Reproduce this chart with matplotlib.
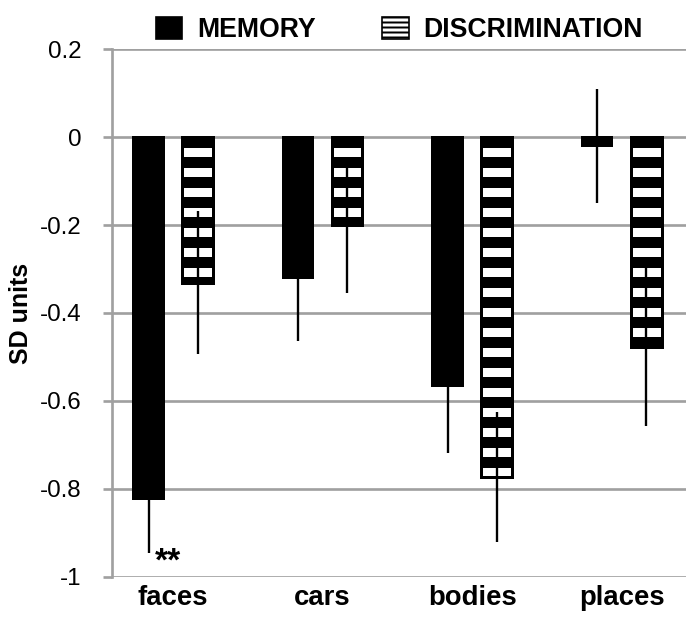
import numpy as np
import matplotlib
matplotlib.use("Agg")
from matplotlib import pyplot as plt
from matplotlib.patches import Patch

categories = ["faces", "cars", "bodies", "places"]
memory = [-0.823, -0.32, -0.566, -0.02]
memory_err = [0.123, 0.144, 0.152, 0.13]
discrimination = [-0.331, -0.20, -0.773, -0.477]
discrimination_err = [0.163, 0.154, 0.147, 0.18]
yticks = [0.2, 0, -0.2, -0.4, -0.6, -0.8, -1]
ytick_labels = ["0.2", "0", "-0.2", "-0.4", "-0.6", "-0.8", "-1"]

plt.rcParams['font.family'] = ['Liberation Sans', 'DejaVu Sans']
plt.rcParams['hatch.linewidth'] = 1.2

fig = plt.figure(dpi=120, figsize=(686 / 120, 619 / 120))
ax = fig.add_axes([0.1633, 0.0679, 1 - 0.1633, 0.9208 - 0.0679])

x = np.arange(len(categories))
offset = 0.164
width = 0.205

# stripe pattern for the discrimination bars (in SD units)
stripe_period = 0.0455
stripe_black = 0.025

ax.bar(x - offset, memory, width, color='black', edgecolor='black',
       linewidth=1.2, zorder=2)
ax.bar(x + offset, discrimination, width, color='white', edgecolor='black',
       linewidth=1.6, zorder=2)
for xi, v in zip(x + offset, discrimination):
    tops = np.arange(0, v, -stripe_period)
    bottoms = np.maximum(tops - stripe_black, v)
    ax.bar(np.full(len(tops), xi), bottoms - tops, width, bottom=tops,
           color='black', linewidth=0, zorder=2.1)
ax.bar(x + offset, discrimination, width, facecolor='none', edgecolor='black',
       linewidth=1.8, zorder=2.2)

ax.errorbar(x - offset, memory, yerr=memory_err, fmt='none', ecolor='black',
            elinewidth=1.4, capsize=0, zorder=3)
ax.errorbar(x + offset, discrimination, yerr=discrimination_err, fmt='none',
            ecolor='black', elinewidth=1.4, capsize=0, zorder=3)

ax.text(x[0] - 0.033, -0.93, "**", ha='center', va='top', fontsize=20,
        fontweight='bold')

ax.set_xlim(-0.408, 3.43)
ax.set_ylim(-1, 0.2)
ax.set_yticks(yticks)
ax.set_yticklabels(ytick_labels)
ax.set_xticks(x)
ax.set_xticklabels(categories, fontweight='bold')
ax.grid(axis='y', color='#a0a0a0', linewidth=1.6, zorder=0)
ax.set_axisbelow(True)

for s in ['top', 'right', 'bottom']:
    ax.spines[s].set_visible(False)
ax.spines['left'].set_color('#a0a0a0')
ax.spines['left'].set_linewidth(1.6)
ax.tick_params(axis='y', colors='#a0a0a0', length=5.4, width=1.6,
               labelcolor='black', labelsize=14.5, pad=13)
ax.tick_params(axis='x', length=0, labelsize=16.5, pad=5)
ax.set_ylabel("SD units", fontsize=15, fontweight='bold', labelpad=4)

handles = [Patch(facecolor='black', edgecolor='black', label='MEMORY'),
           Patch(facecolor='white', edgecolor='black', hatch='----',
                 label='DISCRIMINATION')]
fig.legend(handles=handles, loc='upper center', bbox_to_anchor=(0.582, 1.012),
           ncol=2, frameon=False, prop={'weight': 'bold', 'size': 16},
           handlelength=1.0, handleheight=0.9, columnspacing=2.5,
           handletextpad=0.55)

plt.savefig("out.png", dpi=120)
